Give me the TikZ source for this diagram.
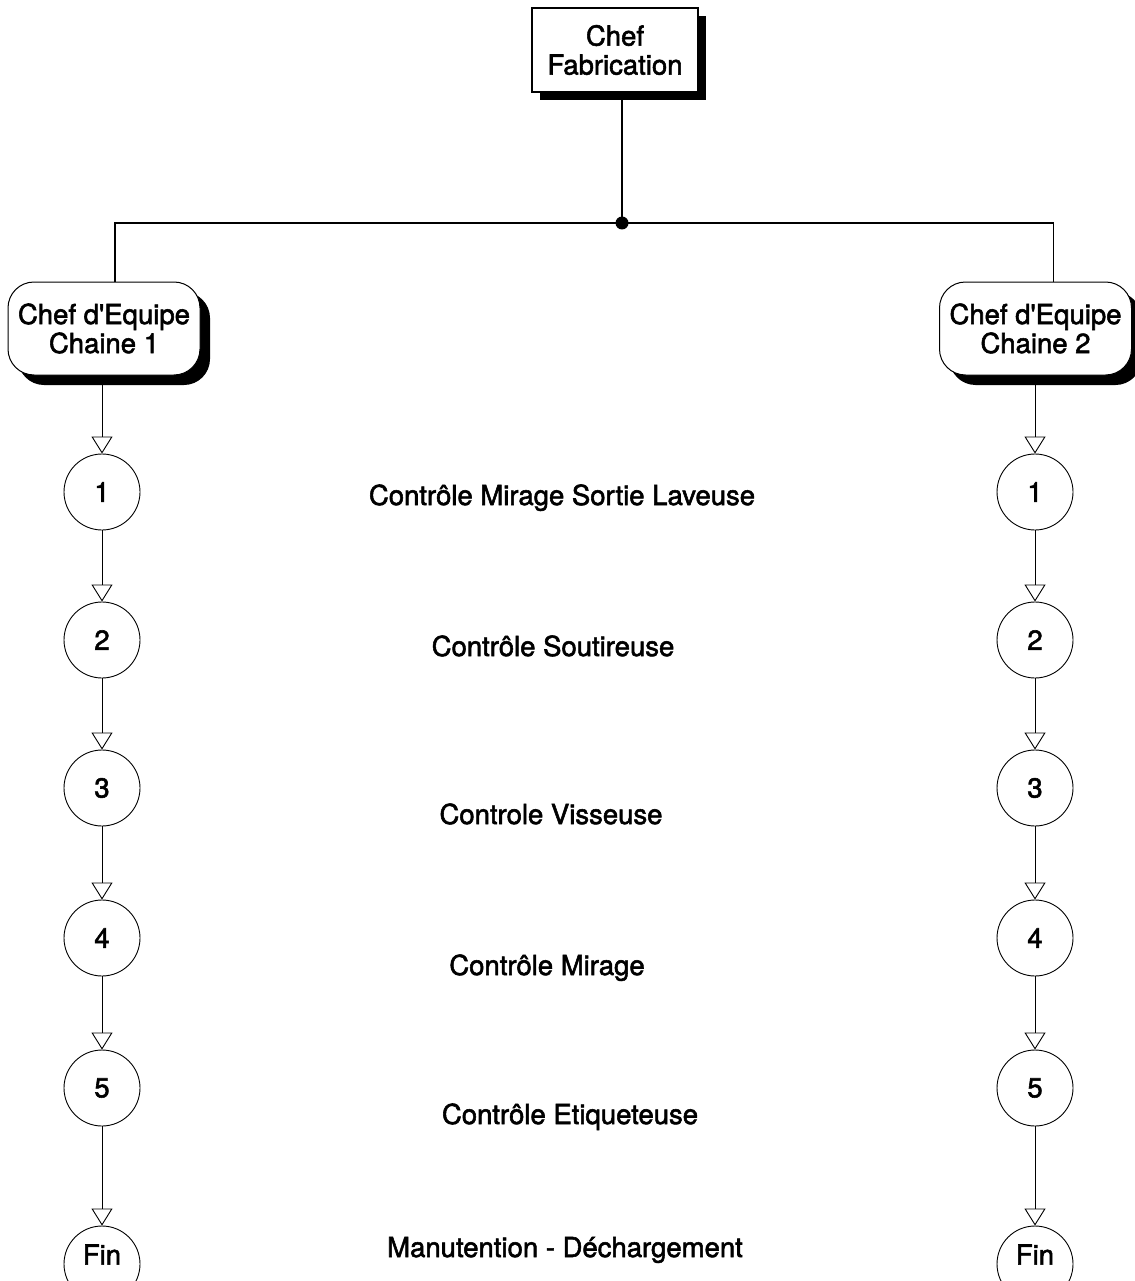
\documentclass[tikz,border=0pt]{standalone}
\usepackage{fontspec}
\setmainfont{TeX Gyre Heros}
\newfontfamily\diafont[FakeBold=2]{TeX Gyre Heros}
\usetikzlibrary{arrows.meta,shadows}

\begin{document}
\begin{tikzpicture}[x=1pt,y=-1pt,
  every node/.style={font=\diafont\fontsize{27.5}{29}\selectfont},
  headbox/.style={draw, line width=1.4pt, fill=white, minimum width=166pt,
    minimum height=84pt, align=center, inner sep=2pt,
    general shadow={fill=black, shadow xshift=8pt, shadow yshift=-8pt}},
  leadbox/.style={draw, line width=1pt, rounded corners=26pt, fill=white,
    minimum width=192pt, minimum height=93pt, align=center, inner sep=1pt,
    general shadow={fill=black, shadow xshift=10pt, shadow yshift=-10pt}},
  stepnode/.style={draw, circle, line width=0.9pt, minimum size=76pt, inner sep=0pt},
  flow/.style={-{Triangle[open,length=17pt,width=21pt,line width=0.9pt]}, line width=0.8pt},
  wire/.style={line width=1.1pt},
  caption/.style={anchor=base}
]
\useasboundingbox (0,0) rectangle (1134,1281);

% head of production
\node[headbox] (head) at (615,50) {Chef\\Fabrication};

% team leaders
\node[leadbox] (L) at (104,328.5) {Chef d\textquotesingle Equipe\\Chaine 1};
\node[leadbox] (R) at (1035.5,328.5) {Chef d\textquotesingle Equipe\\Chaine 2};

% branching from the head to both lines
\coordinate (j) at (622,223);
\draw[wire] (head.south -| j) -- (j);
\draw[wire] (j) -| ([xshift=11pt]L.north);
\draw[wire] (j) -| ([xshift=18pt]R.north);
\fill (j) circle (6.5pt);

% control steps of both lines
\foreach \n/\y in {1/492, 2/640, 3/788, 4/938, 5/1088} {
  \node[stepnode] (L\n) at (102,\y) {\n};
  \node[stepnode] (R\n) at (1035,\y) {\n};
}
\node[stepnode] (L6) at (102,1264) {\raisebox{19pt}{Fin}};
\node[stepnode] (R6) at (1035,1264) {\raisebox{19pt}{Fin}};

% flow arrows
\draw[flow] (L1.north |- L.south) -- (L1.north);
\draw[flow] (R1.north |- R.south) -- (R1.north);
\foreach \a/\b in {1/2, 2/3, 3/4, 4/5, 5/6} {
  \draw[flow] (L\a.south) -- (L\b.north);
  \draw[flow] (R\a.south) -- (R\b.north);
}

% step captions
\node[caption] (t1) at (562,505) {Contrôle Mirage Sortie Laveuse};
\node[caption] (t2) at (553,656) {Contrôle Soutireuse};
\node[caption] (t3) at (551,824) {Controle Visseuse};
\node[caption] (t4) at (547,975) {Contrôle Mirage};
\node[caption] (t5) at (570,1124) {Contrôle Etiqueteuse};
\node[caption] (t6) at (565,1257) {Manutention - Déchargement};
\end{tikzpicture}
\end{document}
